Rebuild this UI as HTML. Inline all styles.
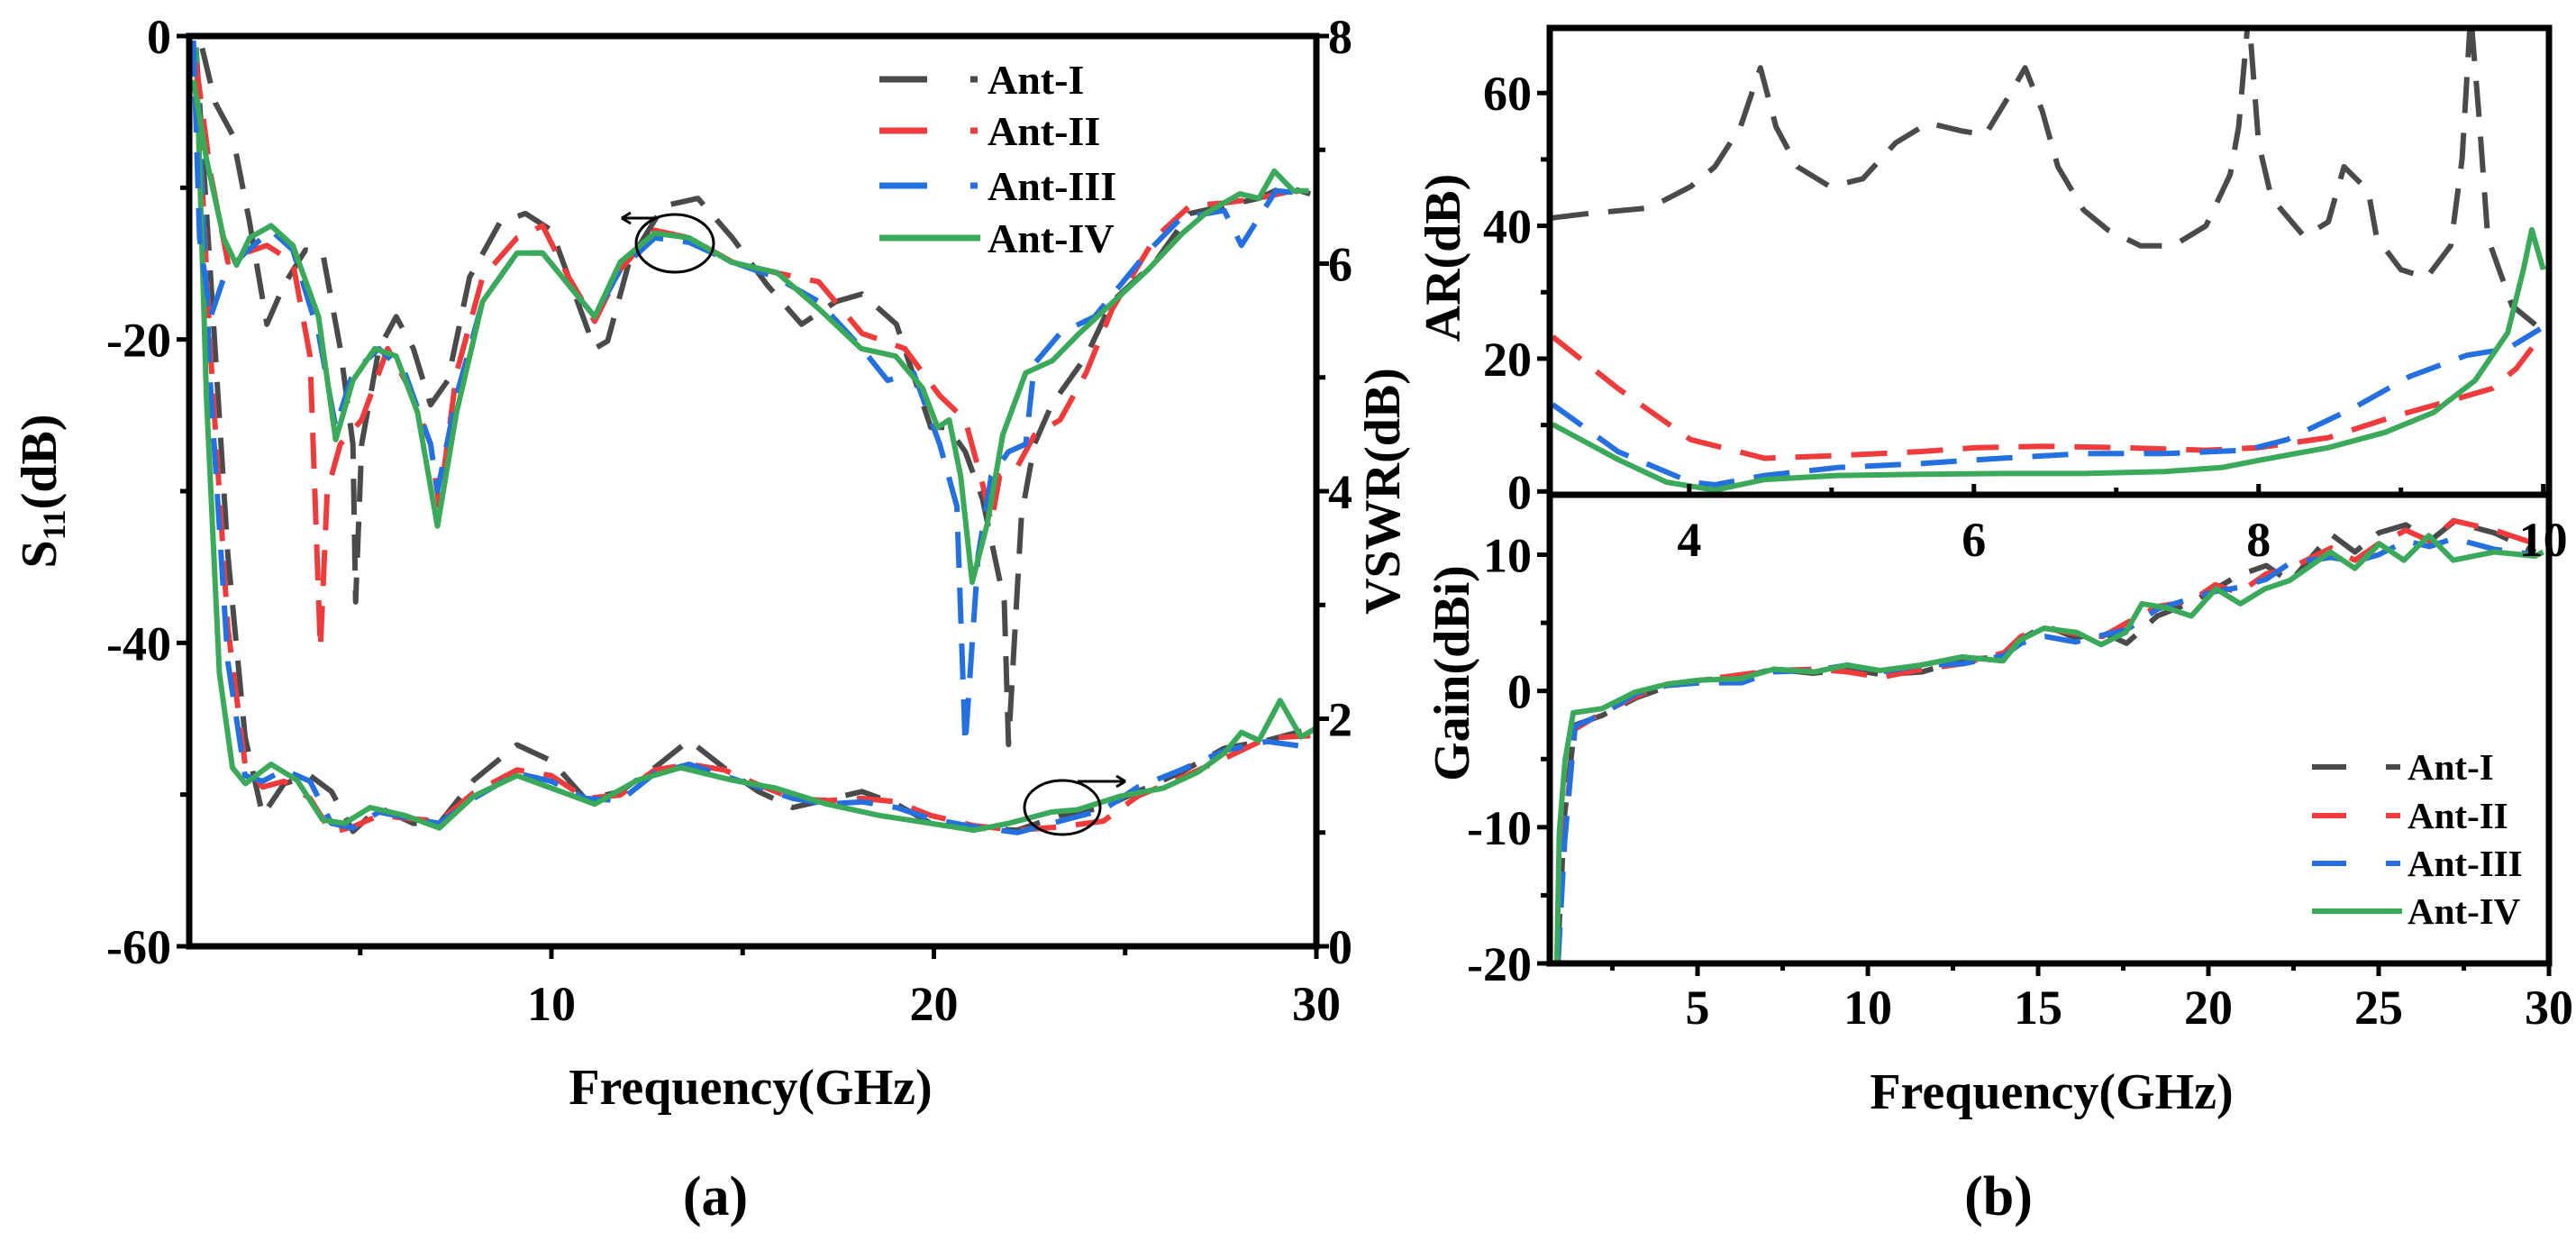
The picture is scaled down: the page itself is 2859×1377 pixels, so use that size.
<!DOCTYPE html>
<html><head><meta charset="utf-8">
<style>
html,body{margin:0;padding:0;background:#fff;}
svg{display:block;}
svg text{font-family:"Liberation Serif","DejaVu Serif",serif;font-weight:bold;}
</style></head>
<body>
<svg id="fig" width="2859" height="1377" viewBox="0 0 2859 1377" xmlns="http://www.w3.org/2000/svg" font-family="Liberation Serif, DejaVu Serif, serif" font-weight="bold">
<defs>
<clipPath id="clipA"><rect x="210" y="40" width="1251" height="1010"/></clipPath>
<clipPath id="clipAR"><rect x="1720" y="31" width="1109" height="518"/></clipPath>
<clipPath id="clipG"><rect x="1720" y="549" width="1109" height="520"/></clipPath>
</defs>
<g id="layer"></g>
</svg>
<script>
// ---------- Panel (a): S11 ----------
const s11F_I=[0.87,1.21,1.66,2.11,2.56,3.01,3.57,4.02,4.48,4.81,4.88,5.04,5.49,5.94,6.39,6.84,7.29,7.86,8.65,9.32,10,10.68,11.13,11.47,12.03,12.93,13.83,14.73,15.64,16.54,17.44,18.12,19.02,19.92,20.37,20.82,21.27,21.84,21.95,22.29,22.63,23.08,23.98,24.66,25.78,26.69,27.59,28.49,29.17,29.84];
const s11V_I=[-0.8,-4.4,-6.5,-12.3,-19.0,-16.4,-14.1,-14.3,-20.6,-26.9,-37.3,-26.9,-20.6,-18.5,-20.6,-24.3,-22.7,-15.9,-12.3,-11.7,-12.8,-17.5,-20.6,-20.1,-14.9,-11.2,-10.7,-13.3,-16.4,-19.0,-17.5,-17.0,-19.0,-25.8,-25.8,-27.4,-30.5,-37.3,-46.7,-31.6,-26.9,-24.3,-21.1,-17.5,-14.9,-11.7,-11.2,-10.7,-9.9,-10.4];
const s11F_II=[0.71,1.09,1.54,1.99,2.56,3.24,3.69,3.96,4.14,4.48,5.04,5.72,6.28,6.84,7.07,7.52,8.2,9.1,9.77,10.45,11.13,11.8,12.7,13.6,14.73,15.86,16.99,18.12,19.24,20.15,20.82,21.27,21.5,21.72,22.18,22.63,23.3,23.98,24.66,25.78,26.69,27.59,28.49,29.39,29.84];
const s11V_II=[-1.8,-9.1,-14.9,-14.3,-13.8,-14.9,-21.1,-40.4,-30.0,-26.9,-25.3,-20.6,-23.2,-26.9,-31.0,-22.2,-15.9,-13.3,-12.5,-15.9,-18.8,-15.4,-12.8,-13.3,-14.9,-15.6,-16.2,-19.6,-20.6,-23.7,-25.3,-29.5,-32.1,-29.0,-28.4,-26.3,-25.3,-22.2,-18.0,-13.3,-11.2,-11.0,-10.7,-10.2,-10.4];
const s11F_III=[0.64,0.8,1.09,1.48,1.99,2.67,3.24,3.91,4.36,4.81,5.49,6.17,6.84,7.02,7.52,8.2,9.1,9.77,10.45,11.13,11.8,12.7,13.6,14.73,15.86,16.99,18.12,18.79,19.47,20.15,20.6,20.82,21.16,21.5,21.95,22.4,22.63,23.3,24.2,24.88,25.56,26.46,27.14,27.59,28.04,28.94,29.84];
const s11V_III=[-0.3,-13.3,-18.5,-15.6,-14.3,-12.8,-14.1,-19.6,-25.8,-22.2,-20.6,-22.2,-26.9,-30.0,-23.7,-17.5,-14.3,-14.3,-16.4,-18.5,-15.4,-13.3,-13.6,-14.9,-15.9,-17.5,-20.6,-22.7,-22.2,-26.9,-31.0,-46.7,-34.2,-29.0,-27.4,-26.9,-21.6,-19.6,-18.5,-16.4,-14.3,-12.0,-11.7,-11.5,-13.8,-10.2,-10.4];
const s11F_IV=[0.64,0.98,1.43,1.77,2.11,2.67,3.24,3.91,4.36,4.81,5.38,5.94,6.5,7.02,7.52,8.2,9.1,9.77,10.45,11.13,11.8,12.7,13.6,14.7,15.9,17.0,18.1,19.0,19.7,20.1,20.4,20.7,21.0,21.4,21.8,22.4,23.1,23.8,24.7,25.6,26.5,27.1,28.0,28.5,28.9,29.4,29.8];
const s11V_IV=[-2.9,-8.1,-13.3,-15.1,-13.3,-12.5,-13.8,-18.5,-26.6,-22.7,-20.6,-21.1,-24.8,-32.3,-24.8,-17.5,-14.3,-14.3,-16.4,-18.5,-14.9,-13.0,-13.3,-14.9,-15.6,-18.0,-20.6,-21.1,-23.2,-25.8,-25.3,-29.0,-36.0,-32.1,-26.3,-22.2,-21.4,-19.6,-17.5,-15.4,-13.0,-11.7,-10.4,-10.7,-8.9,-10.2,-10.2];
// VSWR
const vswrF=[0.71,1.09,1.54,1.99,2.45,3.01,3.69,4.25,4.81,5.49,6.39,7.07,7.97,9.1,10,10.9,11.8,12.7,13.6,14.51,15.41,16.31,17.22,18.12,19.02,19.92,21.05,22.18,23.3,24.43,25.33,26.46,27.59,28.71,29.84];
const vswrV_I=[7.9,5.88,3.44,1.84,1.15,1.43,1.5,1.36,1.01,1.22,1.08,1.08,1.46,1.77,1.63,1.29,1.36,1.57,1.81,1.57,1.36,1.22,1.29,1.36,1.25,1.08,1.04,1.02,1.15,1.22,1.36,1.53,1.74,1.81,1.91];
const vswrV_II=[7.8,5.2,2.8,1.6,1.4,1.45,1.3,1.0,1.05,1.15,1.12,1.1,1.35,1.55,1.5,1.3,1.33,1.55,1.6,1.55,1.42,1.3,1.28,1.3,1.27,1.15,1.06,1.02,1.05,1.1,1.32,1.48,1.65,1.83,1.85];
const vswrV_III=[7.9,4.9,2.5,1.5,1.45,1.55,1.45,1.08,1.04,1.18,1.12,1.08,1.3,1.52,1.45,1.3,1.28,1.52,1.6,1.5,1.4,1.3,1.25,1.27,1.22,1.12,1.05,1.0,1.1,1.2,1.4,1.55,1.72,1.8,1.75];
const vswrF_IV=[0.71,0.98,1.32,1.66,2.0,2.67,3.35,4.02,4.59,5.26,6.17,7.07,7.97,9.1,10,11.13,12.25,13.38,14.73,15.86,17.2,18.57,19.92,21.05,21.95,23.08,23.75,24.88,26.0,26.9,27.6,28.04,28.5,29.05,29.6,29.95];
const vswrV_IV=[7.9,4.83,2.4,1.57,1.43,1.6,1.46,1.11,1.08,1.22,1.15,1.04,1.32,1.5,1.39,1.25,1.46,1.57,1.46,1.39,1.25,1.15,1.08,1.02,1.08,1.18,1.2,1.32,1.39,1.53,1.7,1.88,1.81,2.16,1.84,1.91];
const aXTicks=[10,20,30], aYTicks=[0,-20,-40,-60], aVTicks=[0,2,4,6,8];
// ---------- Panel (b): AR ----------
const arF_I=[3.04,3.27,3.72,4.01,4.18,4.36,4.5,4.61,4.76,4.99,5.22,5.45,5.68,5.91,6.08,6.25,6.36,6.48,6.59,6.77,6.94,7.17,7.4,7.63,7.8,7.86,7.93,8.0,8.09,8.32,8.49,8.6,8.77,8.83,9.0,9.18,9.35,9.43,9.49,9.55,9.61,9.78,9.98];
const arV_I=[41.2,41.8,42.7,45.9,48.9,54.9,63.8,54.9,48.9,45.9,47.1,52.5,55.5,54.3,53.7,59.7,63.8,57.3,48.9,42.4,39.4,37.0,37.0,40.0,47.7,54.9,72,52.5,44.2,38.4,40.6,48.9,45.3,38.2,33.4,32.2,37.0,50.1,72,56.1,38.2,28.0,24.5];
const arF_II=[3.04,3.5,4.01,4.53,5.04,5.62,6.02,6.48,7.05,7.63,8.0,8.49,8.95,9.35,9.64,9.81,9.98];
const arV_II=[23.3,15.5,7.8,5.0,5.4,6.0,6.6,6.8,6.6,6.2,6.6,8.1,11.3,13.7,15.5,18.5,23.3];
const arF_III=[3.04,3.5,4.01,4.18,4.53,5.04,5.62,6.19,6.77,7.34,7.91,8.2,8.66,9.06,9.46,9.75,9.98];
const arV_III=[13.1,6.0,1.4,1.0,2.4,3.6,4.2,5.0,5.7,5.7,6.2,7.8,12.5,17.3,20.5,21.5,24.5];
const arF_IV=[3.04,3.5,3.84,4.18,4.53,5.04,5.62,6.19,6.77,7.34,7.74,8.03,8.49,8.89,9.23,9.52,9.75,9.86,9.92,10.0];
const arV_IV=[10.1,4.8,1.4,0.2,1.8,2.4,2.6,2.7,2.7,3.0,3.6,4.8,6.6,8.9,11.9,16.7,23.9,33.4,39.4,33.4];
const arXTicks=[4,6,8,10], arYTicks=[0,20,40,60];
// ---------- Panel (b): Gain ----------
const gF=[0.9,1.1,1.4,2.2,3.2,4.1,5.1,6.3,7.2,8.4,9.4,10.4,11.6,12.8,14.0,14.5,15.2,16.1,16.9,17.6,18.5,19.5,20.2,20.9,21.7,22.4,23.6,24.3,25.0,25.8,26.5,27.2,28.4,29.6];
const gV_I=[-19,-9,-2.5,-1.8,-0.5,0.3,0.8,1.0,1.6,1.3,1.6,1.2,1.4,2.3,2.5,3.8,4.8,3.9,4.3,3.5,5.5,6.5,7.5,8.5,9.2,8.0,11.5,10.2,11.6,12.2,11.0,12.4,11.6,10.2];
const gV_II=[-20,-10,-2.8,-1.6,-0.4,0.5,0.8,1.2,1.5,1.6,1.4,1.0,1.6,2.0,2.8,4.0,4.6,4.2,4.0,5.0,6.2,6.6,7.8,7.2,8.6,9.0,10.5,9.6,10.8,11.8,11.0,12.5,11.8,10.8];
const gV_III=[-20,-11,-2.6,-1.7,-0.2,0.4,0.6,0.6,1.4,1.5,1.9,1.4,1.9,2.0,2.6,3.5,4.0,3.6,4.1,4.5,6.0,6.8,7.3,7.6,8.2,9.4,9.8,9.5,10.0,11.0,10.6,11.2,10.4,10.0];
const gF_IV=[0.87,0.94,1.11,1.35,2.19,2.67,3.15,4.11,5.07,6.27,7.24,8.44,9.4,10.36,11.56,12.76,13.97,14.45,15.17,16.13,16.85,17.57,18.05,18.77,19.5,20.22,20.94,21.66,22.38,23.58,24.3,25.02,25.74,26.47,27.19,28.39,29.59,29.83];
const gV_IV=[-20.1,-10.4,-5.1,-1.6,-1.3,-0.7,-0.1,0.5,0.8,0.9,1.6,1.4,1.9,1.5,1.9,2.5,2.2,3.7,4.6,4.3,3.4,4.3,6.4,6.1,5.5,7.5,6.4,7.5,8.1,10.2,9.0,10.8,9.6,11.4,9.6,10.2,9.9,10.2];
const gXTicks=[5,10,15,20,25,30], gYTicks=[10,0,-10,-20];
const names=['Ant-I','Ant-II','Ant-III','Ant-IV'];

const COL=['#4a4a4a','#ef3b3b','#2470e0','#3aaa5a'];
const DASH=['40,22','40,22','40,22',null];
const NS='http://www.w3.org/2000/svg';
const FONT='"Liberation Serif","DejaVu Serif",serif';
const layer=document.getElementById('layer');
function el(tag,attrs,parent){const e=document.createElementNS(NS,tag);for(const k in attrs)e.setAttribute(k,attrs[k]);(parent||layer).appendChild(e);return e;}
function lin(d0,d1,p0,p1){return v=>p0+(v-d0)*(p1-p0)/(d1-d0);}

const ax=lin(0.53,30,210,1461), ay=lin(0,-60,40,1050), av=lin(0,8,1050,40);
const rx=lin(3.02,10.04,1720,2829), ry=lin(-0.5,69.8,549,31);
const gx=lin(0.66,30,1720,2829), gy=lin(-20,14.4,1069,549);

function series(F,V,sx,sy,i,clip,name){
  const n=Math.min(F.length,V.length);let d='';
  for(let k=0;k<n;k++)d+=(k?'L':'M')+sx(F[k]).toFixed(1)+','+sy(V[k]).toFixed(1);
  const p=el('path',{d:d,fill:'none',stroke:COL[i],'stroke-width':6,'stroke-linejoin':'round','clip-path':'url(#'+clip+')'});
  if(DASH[i])p.setAttribute('stroke-dasharray',DASH[i]);
  
  
}
function text(x,y,s,size,anchor,name,rot){
  const t=el('text',{x:x,y:y,'font-size':size,'text-anchor':anchor||'middle',fill:'#000','font-weight':'bold'});
  t.style.fontFamily=FONT;
  if(rot)t.setAttribute('transform','rotate(-90 '+x+' '+y+')');
  t.textContent=s;
  
  
  return t;
}
function tick(x1,y1,x2,y2){const l=el('line',{x1:x1,y1:y1,x2:x2,y2:y2,stroke:'#000','stroke-width':5});
  
  }

const sF=[s11F_I,s11F_II,s11F_III,s11F_IV], sV=[s11V_I,s11V_II,s11V_III,s11V_IV];
const vF=[vswrF,vswrF,vswrF,vswrF_IV], vV=[vswrV_I,vswrV_II,vswrV_III,vswrV_IV];
for(let i=0;i<4;i++){series(vF[i],vV[i],ax,av,i,'clipA','vswr-'+names[i].toLowerCase());}
for(let i=0;i<4;i++){series(sF[i],sV[i],ax,ay,i,'clipA','s11-'+names[i].toLowerCase());}
let fr=el('rect',{x:210,y:40,width:1251,height:1010,fill:'none',stroke:'#000','stroke-width':7});


aXTicks.forEach(v=>{tick(ax(v),1050,ax(v),1064);text(ax(v),1132,String(v),54,'middle','x-tick-label');});
[5,15,25].forEach(v=>tick(ax(v),1050,ax(v),1060));
aYTicks.forEach(v=>{tick(196,ay(v),210,ay(v));text(190,ay(v)+19,String(v),54,'end','y-tick-label');});
[-10,-30,-50].forEach(v=>tick(200,ay(v),210,ay(v)));
aVTicks.forEach(v=>{tick(1461,av(v),1475,av(v));text(1474,av(v)+19,String(v),54,'start','vswr-tick-label');});
[1,3,5,7].forEach(v=>tick(1461,av(v),1471,av(v)));
text(833,1225,'Frequency(GHz)',56,'middle','x-axis-title-a');
(function(){const t=el('text',{x:62,y:545,'font-size':56,'text-anchor':'middle','font-weight':'bold',transform:'rotate(-90 62 545)'});
t.style.fontFamily=FONT;


const a=el('tspan',{},t);a.textContent='S';const b=el('tspan',{'font-size':36,dy:10},t);b.textContent='11';const c=el('tspan',{dy:-10},t);c.textContent='(dB)';})();
text(1553,545,'VSWR(dB)',56,'middle','y-axis-title-vswr',true);
let e1=el('ellipse',{cx:749,cy:270,rx:43,ry:32,fill:'none',stroke:'#000','stroke-width':3});


let e2=el('ellipse',{cx:1179,cy:896,rx:42,ry:30,fill:'none',stroke:'#000','stroke-width':3});


let a1=el('path',{d:'M727,242 L690,242 M690,242 l10,-6 M690,242 l10,6',stroke:'#000','stroke-width':3,fill:'none'});


let a2=el('path',{d:'M1196,867 L1249,867 M1249,867 l-10,-6 M1249,867 l-10,6',stroke:'#000','stroke-width':3,fill:'none'});


const legA=[88,145,206,264];
for(let i=0;i<4;i++){
  const g=el('g',{});
  
  
  if(DASH[i]){el('line',{x1:976,y1:legA[i],x2:1029,y2:legA[i],stroke:COL[i],'stroke-width':7},g);
    el('line',{x1:1077,y1:legA[i],x2:1085,y2:legA[i],stroke:COL[i],'stroke-width':7},g);}
  else el('line',{x1:976,y1:legA[i],x2:1088,y2:legA[i],stroke:COL[i],'stroke-width':7},g);
  const t=el('text',{x:1096,y:legA[i]+16,'font-size':46,fill:'#000','font-weight':'bold'},g);t.style.fontFamily=FONT;t.textContent=names[i];
}
const arF=[arF_I,arF_II,arF_III,arF_IV], arV=[arV_I,arV_II,arV_III,arV_IV];
for(let i=0;i<4;i++)series(arF[i],arV[i],rx,ry,i,'clipAR','ar-'+names[i].toLowerCase());
const gFa=[gF,gF,gF,gF_IV], gVa=[gV_I,gV_II,gV_III,gV_IV];
for(let i=0;i<4;i++)series(gFa[i],gVa[i],gx,gy,i,'clipG','gain-'+names[i].toLowerCase());
let fr2=el('rect',{x:1720,y:31,width:1109,height:518,fill:'none',stroke:'#000','stroke-width':7});


let fr3=el('rect',{x:1720,y:549,width:1109,height:520,fill:'none',stroke:'#000','stroke-width':7});


arXTicks.forEach(v=>{tick(rx(v),549,rx(v),537);text(rx(v),617,String(v),54,'middle','ar-x-tick-label');});
[5,7,9].forEach(v=>tick(rx(v),549,rx(v),541));
arYTicks.forEach(v=>{tick(1706,ry(v),1720,ry(v));text(1700,ry(v)+19,String(v),54,'end','ar-y-tick-label');});
[10,30,50].forEach(v=>tick(1710,ry(v),1720,ry(v)));
gXTicks.forEach(v=>{tick(gx(v),1069,gx(v),1083);text(gx(v),1136,String(v),54,'middle','gain-x-tick-label');});
[2.5,7.5,12.5,17.5,22.5,27.5].forEach(v=>tick(gx(v),1069,gx(v),1077));
gYTicks.forEach(v=>{tick(1706,gy(v),1720,gy(v));text(1700,gy(v)+19,String(v),54,'end','gain-y-tick-label');});
[5,-5,-15].forEach(v=>tick(1710,gy(v),1720,gy(v)));
text(1620,286,'AR(dB)',56,'middle','y-axis-title-ar',true);
text(1630,747,'Gain(dBi)',56,'middle','y-axis-title-gain',true);
text(2277,1230,'Frequency(GHz)',56,'middle','x-axis-title-b');
const legB=[851,905,958,1011];
for(let i=0;i<4;i++){
  const g=el('g',{});
  
  
  if(DASH[i]){el('line',{x1:2566,y1:legB[i],x2:2604,y2:legB[i],stroke:COL[i],'stroke-width':6},g);
    el('line',{x1:2648,y1:legB[i],x2:2664,y2:legB[i],stroke:COL[i],'stroke-width':6},g);}
  else el('line',{x1:2566,y1:legB[i],x2:2666,y2:legB[i],stroke:COL[i],'stroke-width':6},g);
  const t=el('text',{x:2672,y:legB[i]+14,'font-size':41,fill:'#000','font-weight':'bold'},g);t.style.fontFamily=FONT;t.textContent=names[i];
}
function panelLabel(x,letter,name){
  const t=el('text',{x:x,y:1348,'font-size':62,'text-anchor':'middle','font-weight':'normal'});
  t.style.fontFamily=FONT;
  
  
  const a=el('tspan',{},t);a.textContent='(';const b=el('tspan',{'font-weight':'bold'},t);b.textContent=letter;const c=el('tspan',{},t);c.textContent=')';
}
panelLabel(794,'a','panel-label-a');
panelLabel(2218,'b','panel-label-b');
</script>
</body></html>
